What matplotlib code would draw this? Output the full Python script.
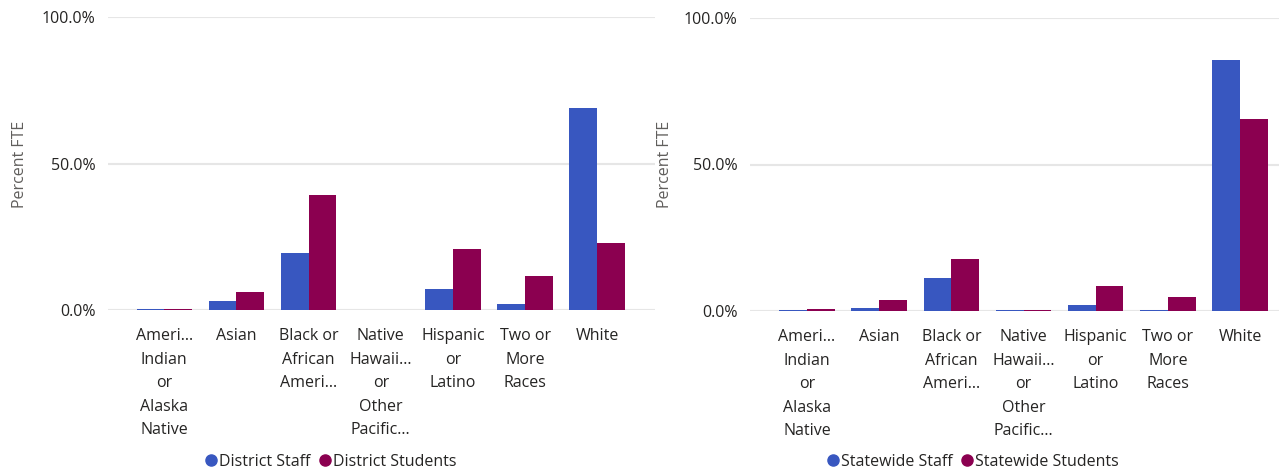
import matplotlib.pyplot as plt
import numpy as np
from matplotlib.ticker import FuncFormatter
from matplotlib.lines import Line2D

plt.rcParams['font.family'] = ['Open Sans', 'DejaVu Sans']

categories = ["Ameri…\nIndian\nor\nAlaska\nNative", "Asian", "Black or\nAfrican\nAmeri…",
              "Native\nHawaii…\nor\nOther\nPacific…", "Hispanic\nor\nLatino", "Two or\nMore\nRaces", "White"]

district_staff = [0.5, 3.0, 19.5, 0.0, 7.2, 2.0, 69.0]
district_students = [0.4, 6.1, 39.2, 0.0, 20.8, 11.6, 22.9]
statewide_staff = [0.4, 1.0, 11.2, 0.4, 2.0, 0.5, 85.6]
statewide_students = [0.6, 3.7, 17.7, 0.4, 8.5, 4.7, 65.5]

blue = '#3857C0'
maroon = '#8B0050'
text_col = '#252423'
label_col = '#605E5C'

fig = plt.figure(figsize=(12.79, 4.72), dpi=100)

panels = [
    ([108/1279, 1-310/472, (655-108)/1279, (310-17)/472], district_staff, district_students,
     ['District Staff', 'District Students'], (-0.78, 6.8), 331/1279, 20/1279),
    ([750/1279, 1-311/472, (1279-750)/1279, (311-18)/472], statewide_staff, statewide_students,
     ['Statewide Staff', 'Statewide Students'], (-0.79, 6.54), 973/1279, 665/1279),
]

w = 0.385
x = np.arange(len(categories))
for rect, staff, students, labels, xl, legx, ylx in panels:
    ax = fig.add_axes(rect)
    ax.bar(x - w/2, staff, w, color=blue, zorder=3)
    ax.bar(x + w/2, students, w, color=maroon, zorder=3)
    ax.set_ylim(0, 100)
    ax.set_xlim(*xl)
    ax.set_yticks([0, 50, 100])
    ax.yaxis.set_major_formatter(FuncFormatter(lambda v, p: f"{v:.1f}%"))
    ax.grid(axis='y', color='#E6E6E6', linewidth=1.5, zorder=0)
    for s in ax.spines.values():
        s.set_visible(False)
    ax.tick_params(axis='both', length=0, labelsize=11.5, colors=text_col)
    ax.tick_params(axis='y', pad=9)
    ax.set_xticks(x)
    ax.set_xticklabels(categories, color=text_col, linespacing=1.63)
    ax.tick_params(axis='x', pad=13)
    fig.text(ylx, 1-164/472, 'Percent FTE', rotation=90, ha='center', va='center',
             fontsize=11.5, color=label_col)
    handles = [Line2D([], [], marker='o', linestyle='', color=blue, markersize=8),
               Line2D([], [], marker='o', linestyle='', color=maroon, markersize=8)]
    fig.legend(handles, labels, loc='center', bbox_to_anchor=(legx, 1-462/472), ncol=2,
               frameon=False, fontsize=11.5, handlelength=0.7, handletextpad=0.15,
               columnspacing=0.6, labelcolor=text_col, borderaxespad=0)

fig.savefig('out.png', dpi=100)
